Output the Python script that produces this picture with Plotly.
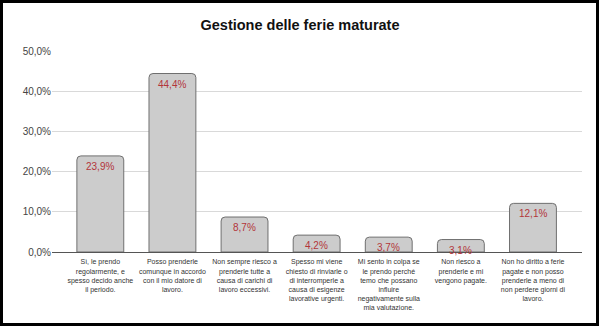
import plotly.graph_objects as go

categories = [
    "Sì, le prendo<br>regolarmente, e<br>spesso decido anche<br>il periodo.",
    "Posso prenderle<br>comunque in accordo<br>con il mio datore di<br>lavoro.",
    "Non sempre riesco a<br>prenderle tutte a<br>causa di carichi di<br>lavoro eccessivi.",
    "Spesso mi viene<br>chiesto di rinviarle o<br>di interromperle a<br>causa di esigenze<br>lavorative urgenti.",
    "Mi sento in colpa se<br>le prendo perché<br>temo che possano<br>influire<br>negativamente sulla<br>mia valutazione.",
    "Non riesco a<br>prenderle e mi<br>vengono pagate.",
    "Non ho diritto a ferie<br>pagate e non posso<br>prenderle a meno di<br>non perdere giorni di<br>lavoro.",
]
values = [23.9, 44.4, 8.7, 4.2, 3.7, 3.1, 12.1]
value_labels = ["23,9%", "44,4%", "8,7%", "4,2%", "3,7%", "3,1%", "12,1%"]
y_ticks = [0, 10, 20, 30, 40, 50]
y_ticktext = ["0,0%", "10,0%", "20,0%", "30,0%", "40,0%", "50,0%"]

SANS = "Liberation Sans, Arial"
xs = list(range(len(categories)))

fig = go.Figure()
fig.add_trace(go.Bar(
    x=xs, y=values, width=0.65,
    marker=dict(color="#cccccc", line=dict(color="#6f6f6f", width=1), cornerradius=4),
    hoverinfo="skip",
))
for xi, v, t in zip(xs, values, value_labels):
    fig.add_annotation(x=xi, y=v, text=t, showarrow=False, yanchor="top", yshift=-3,
                       font=dict(family=SANS, size=10, color="#b3353a"))

W, H = 600, 327
ml, mr, mt, mb = 52, 18, 51, 75
fig.update_layout(
    width=W, height=H,
    margin=dict(l=ml, r=mr, t=mt, b=mb),
    paper_bgcolor="white", plot_bgcolor="white",
    showlegend=False,
    title=dict(text="<b>Gestione delle ferie maturate</b>", x=0.5, xanchor="center",
               y=1 - 25 / H, yanchor="middle",
               font=dict(family=SANS, size=14.5, color="#111111")),
    xaxis=dict(range=[-0.67, 6.68], tickvals=xs, ticktext=categories,
               tickfont=dict(family=SANS, size=7, color="#333333"),
               showgrid=False, showline=True, linecolor="#555555", linewidth=1,
               ticks="outside", ticklen=3, tickcolor="rgba(0,0,0,0)", tickangle=0, zeroline=False),
    yaxis=dict(range=[0, 50], tickvals=y_ticks, ticktext=y_ticktext,
               tickfont=dict(family=SANS, size=10, color="#444444"),
               showgrid=True, gridcolor="#d9d9d9", gridwidth=1,
               zeroline=False, ticks="", showline=False),
)

pw = W - ml - mr
ph = H - mt - mb
fig.add_shape(type="rect", xref="paper", yref="paper",
              x0=(1.5 - ml) / pw, x1=(W - 2.5 - ml) / pw,
              y0=-(mb - 2.5) / ph, y1=1 + (mt - 1.5) / ph,
              line=dict(color="black", width=3), fillcolor="rgba(0,0,0,0)", layer="above")

fig.write_html("out.html")
